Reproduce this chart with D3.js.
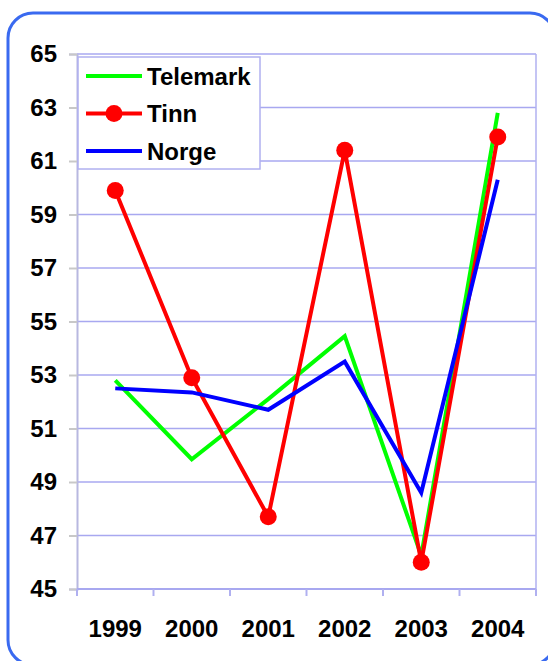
<!DOCTYPE html>
<html>
<head>
<meta charset="utf-8">
<script src="https://cdn.jsdelivr.net/npm/d3@7"></script>
<style>
  body { margin: 0; background: #fff; }
  svg { display: block; font-family: "Liberation Sans", Arial, sans-serif; font-weight: bold; }
</style>
</head>
<body>
<svg id="chart"></svg>
<script>
var years = ['1999', '2000', '2001', '2002', '2003', '2004'];
var telemark = [52.8, 49.85, 52.1, 54.45, 46.25, 62.8];
var tinn = [59.9, 52.9, 47.7, 61.4, 46.0, 61.9];
var norge = [52.5, 52.35, 51.7, 53.5, 48.6, 60.3];
var yTicks = [45, 47, 49, 51, 53, 55, 57, 59, 61, 63, 65];

var series = [
  { name: 'Telemark', values: telemark, color: '#00ff00', marker: false },
  { name: 'Tinn', values: tinn, color: '#ff0000', marker: true },
  { name: 'Norge', values: norge, color: '#0000ff', marker: false }
];

var w = 548;
var h = 661;
var plotL = 77, plotR = 536, plotT = 54, plotB = 589;

var svg = d3.select('#chart')
            .attr('width', w)
            .attr('height', h);

// rounded blue frame, runs off the right/bottom edge
svg.append('rect')
   .attr('x', 8).attr('y', 13)
   .attr('width', 547).attr('height', 652)
   .attr('rx', 25).attr('ry', 25)
   .style('fill', 'none')
   .style('stroke', '#3a6af0')
   .style('stroke-width', 3);

var x = d3.scaleBand().domain(years).range([plotL, plotR]);
var y = d3.scaleLinear().domain([45, 65]).range([plotB, plotT]);

// gridlines
svg.append('g')
   .selectAll('line')
   .data(yTicks)
   .enter()
   .append('line')
     .attr('x1', plotL).attr('x2', plotR)
     .attr('y1', function(d){ return y(d); })
     .attr('y2', function(d){ return y(d); })
     .style('stroke', '#a8a8f0')
     .style('stroke-width', 1.5);

// right border of plot
svg.append('line')
   .attr('x1', plotR).attr('x2', plotR)
   .attr('y1', plotT).attr('y2', plotB + 7)
   .style('stroke', '#b0b0f0').style('stroke-width', 1.5);

// y axis
var yAxis = svg.append('g')
   .attr('transform', 'translate(' + plotL + ',0)')
   .call(d3.axisLeft(y).tickValues(yTicks).tickSize(8).tickPadding(12));
yAxis.select('.domain').style('stroke', '#b8b8e0').style('stroke-width', 2);
yAxis.selectAll('.tick line').style('stroke', '#c8c8c8').style('stroke-width', 2);
yAxis.selectAll('.tick text')
     .style('font-size', '24px').style('font-weight', 'bold')
     .style('font-family', '"Liberation Sans", Arial, sans-serif')
     .style('fill', '#000');

// x axis: ticks on the category boundaries
var xAxisG = svg.append('g').attr('transform', 'translate(0,' + plotB + ')');
xAxisG.append('line')
   .attr('x1', plotL).attr('x2', plotR)
   .style('stroke', '#a8a8f0').style('stroke-width', 2);
xAxisG.selectAll('line.tk')
   .data(years.concat(['end']))
   .enter()
   .append('line')
     .attr('class', 'tk')
     .attr('x1', function(d, i){ return plotL + i * x.bandwidth(); })
     .attr('x2', function(d, i){ return plotL + i * x.bandwidth(); })
     .attr('y1', 0).attr('y2', 7)
     .style('stroke', '#b0b0f0').style('stroke-width', 2);
xAxisG.selectAll('text')
   .data(years)
   .enter()
   .append('text')
     .attr('x', function(d){ return x(d) + x.bandwidth() / 2; })
     .attr('y', 48)
     .attr('text-anchor', 'middle')
     .style('font-size', '24px')
     .text(function(d){ return d; });

var line = d3.line()
  .x(function(d, i){ return x(years[i]) + x.bandwidth() / 2; })
  .y(function(d){ return y(d); });

series.forEach(function(s){
  svg.append('path')
     .datum(s.values)
     .attr('d', line)
     .style('fill', 'none')
     .style('stroke', s.color)
     .style('stroke-width', 4);
  if(s.marker){
    svg.selectAll('circle.m')
       .data(s.values)
       .enter()
       .append('circle')
         .attr('cx', function(d, i){ return x(years[i]) + x.bandwidth() / 2; })
         .attr('cy', function(d){ return y(d); })
         .attr('r', 8.5)
         .style('fill', s.color);
  }
});

// legend
var legend = svg.append('g');
legend.append('rect')
   .attr('x', 78).attr('y', 57)
   .attr('width', 182).attr('height', 112)
   .style('fill', '#fff')
   .style('stroke', '#b0b0f0')
   .style('stroke-width', 1.5);
var rows = legend.selectAll('g.row')
   .data(series)
   .enter()
   .append('g')
     .attr('transform', function(d, i){ return 'translate(0,' + (76 + i * 37.5) + ')'; });
rows.append('line')
   .attr('x1', 86).attr('x2', 142)
   .style('stroke', function(d){ return d.color; })
   .style('stroke-width', 4);
rows.filter(function(d){ return d.marker; })
   .append('circle')
   .attr('cx', 114).attr('r', 8.5)
   .style('fill', function(d){ return d.color; });
rows.append('text')
   .attr('x', 147).attr('y', 8.5)
   .style('font-size', '24px')
   .text(function(d){ return d.name; });
</script>
</body>
</html>
